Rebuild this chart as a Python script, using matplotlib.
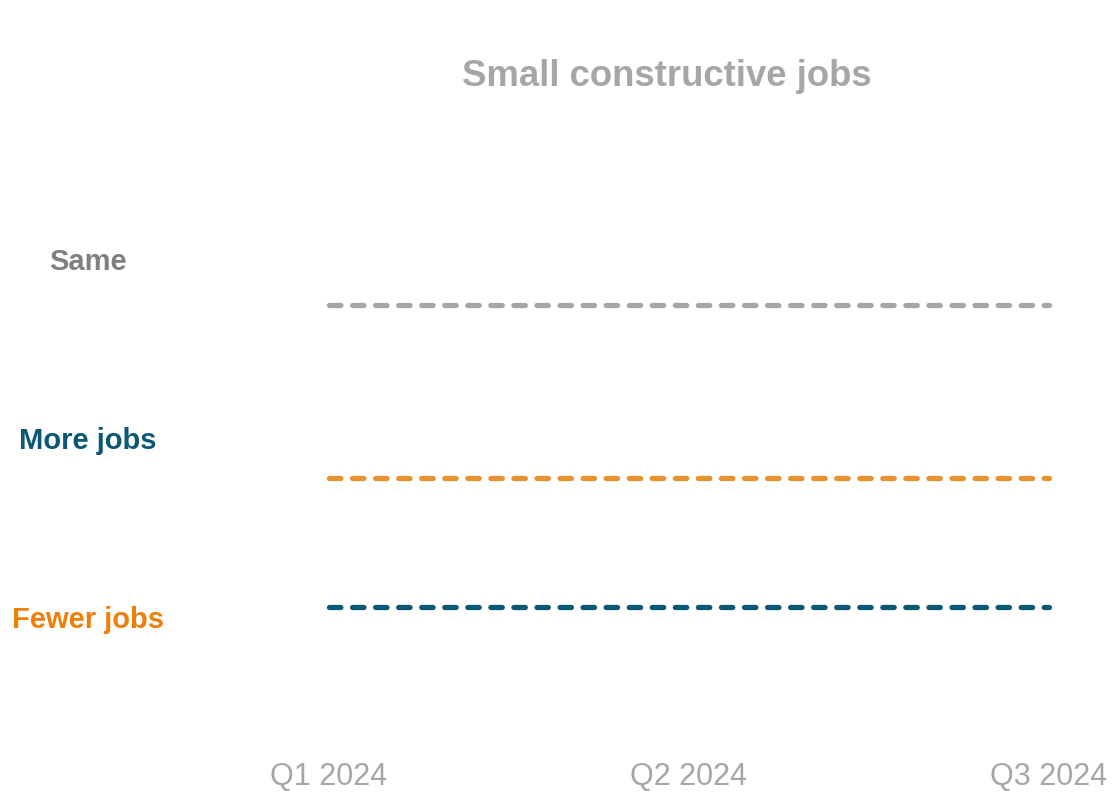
import matplotlib
matplotlib.use("Agg")
import matplotlib.pyplot as plt

plt.rcParams['font.family'] = ['Liberation Sans', 'DejaVu Sans']
plt.rcParams['lines.scale_dashes'] = False

quarters = ["Q1 2024", "Q2 2024", "Q3 2024"]
series_names = ["Same", "More jobs", "Fewer jobs"]
same = [0.713, 0.713, 0.713]
more_jobs = [0.43, 0.43, 0.43]
fewer_jobs = [0.218, 0.218, 0.218]

line_colors = ["#a6a6a6", "#e8922f", "#0b5875"]
label_colors = ["#808080", "#0b5875", "#f07f09"]

fig = plt.figure(figsize=(11.14, 7.92), dpi=100)
ax = fig.add_axes([328.5/1114, 52/792, 720/1114, 610/792])

x = list(range(len(quarters)))
for vals, c in zip([same, more_jobs, fewer_jobs], line_colors):
    ax.plot(x, vals, color=c, lw=3.8, dashes=(8.2, 8.4),
            dash_capstyle='round', solid_capstyle='round', clip_on=False)

ax.set_xlim(0, 2)
ax.set_ylim(0, 1)
ax.set_xticks(x)
ax.set_xticklabels(quarters, fontsize=22, color="#a6a6a6")
ax.tick_params(axis='x', length=0, pad=16)
ax.set_yticks([])
for s in ax.spines.values():
    s.set_visible(False)

fig.text(667/1114, 1 - 76/792, "Small constructive jobs", ha='center', va='center',
         fontsize=26.3, fontweight='bold', color="#a6a6a6")

label_y = [262, 441, 620]
for name, c, yy in zip(series_names, label_colors, label_y):
    fig.text(88/1114, 1 - yy/792, name, ha='center', va='center',
             fontsize=21, fontweight='bold', color=c)

fig.savefig("out.png", dpi=100)
